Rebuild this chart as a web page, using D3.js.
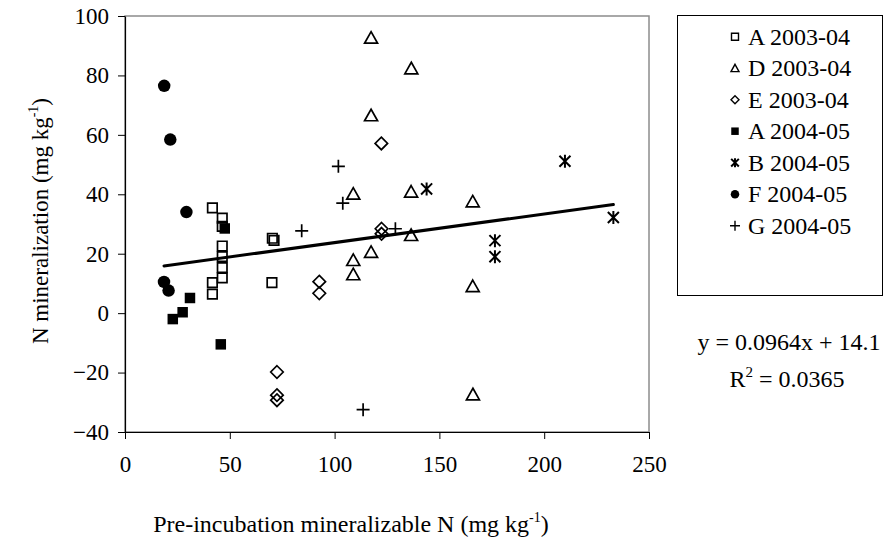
<!DOCTYPE html>
<html>
<head>
<meta charset="utf-8">
<script src="https://cdn.jsdelivr.net/npm/d3@7"></script>
<style>
  html, body { margin: 0; padding: 0; background: #fff; }
  svg { display: block; font-family: "Liberation Serif", "Times New Roman", serif; }
</style>
</head>
<body>
<svg id="chart" width="884" height="538"></svg>
<script>
// ---------------- data ----------------
const seriesNames = ["A 2003-04", "D 2003-04", "E 2003-04", "A 2004-05", "B 2004-05", "F 2004-05", "G 2004-05"];
const seriesShapes = ["squareOpen", "triangle", "diamond", "squareFilled", "star", "circle", "plus"];

const a2003 = [[41.7, 35.4], [46.4, 32.0], [46.4, 29.2], [46.4, 22.6], [46.4, 19.0], [46.4, 15.3],
               [46.4, 11.9], [41.7, 10.3], [41.7, 6.4], [70.3, 25.2], [71.1, 24.5], [70.1, 10.3]];
const d2003 = [[117.4, 92.7], [136.6, 82.4], [117.4, 66.6], [108.9, 40.2], [136.5, 40.9], [165.9, 37.6],
               [136.5, 26.3], [117.4, 20.6], [108.9, 17.9], [108.9, 13.1], [165.9, 9.1], [166.0, -27.3]];
const e2003 = [[72.5, -19.8], [72.5, -27.6], [72.5, -29.3], [122.3, 57.1], [92.7, 10.6], [92.7, 6.7],
               [122.4, 28.4], [122.4, 26.7]];
const a2004 = [[47.6, 28.5], [31.0, 5.1], [27.5, 0.3], [22.8, -2.0], [45.7, -10.5]];
const b2004 = [[143.9, 41.8], [209.9, 51.1], [233.0, 32.2], [176.5, 24.4], [176.5, 19.0]];
const f2004 = [[18.7, 76.5], [21.6, 58.4], [29.3, 34.0], [18.6, 10.5], [20.8, 7.6]];
const g2004 = [[101.8, 49.4], [103.9, 37.0], [84.3, 27.7], [129.0, 28.4], [113.6, -32.5]];

const allSeries = [a2003, d2003, e2003, a2004, b2004, f2004, g2004];

const xTicks = [0, 50, 100, 150, 200, 250];
const yTicks = [-40, -20, 0, 20, 40, 60, 80, 100];

const slope = 0.0964;
const intercept = 14.1;
const eqText = "y = 0.0964x + 14.1";
const r2Text = "= 0.0365";

// ---------------- layout ----------------
const svg = d3.select("#chart");
const x = d3.scaleLinear().domain([0, 250]).range([125, 649]);
const y = d3.scaleLinear().domain([-40, 100]).range([432, 16]);
const FONT = 23;

// plot area border (grey top/right)
svg.append("rect")
  .attr("x", x(0)).attr("y", y(100))
  .attr("width", x(250) - x(0)).attr("height", y(-40) - y(100))
  .attr("fill", "none").attr("stroke", "#8c8c8c").attr("stroke-width", 1.5);

// axes
const xAxis = svg.append("g").attr("transform", `translate(0,${y(-40)})`)
  .call(d3.axisBottom(x).tickValues(xTicks).tickSize(7).tickSizeOuter(0).tickPadding(17));
const yAxis = svg.append("g").attr("transform", `translate(${x(0)},0)`)
  .call(d3.axisLeft(y).tickValues(yTicks).tickSize(7).tickSizeOuter(0).tickPadding(9));
[xAxis, yAxis].forEach(g => {
  g.select(".domain").attr("stroke", "#000").attr("stroke-width", 1.2);
  g.selectAll(".tick line").attr("stroke", "#000").attr("stroke-width", 1);
  g.selectAll(".tick text").attr("fill", "#000")
    .style("font-family", "'Liberation Serif', 'Times New Roman', serif")
    .style("font-size", FONT + "px");
});

// ---------------- markers ----------------
function markerPath(shape, s) {
  const h = s / 2;
  switch (shape) {
    case "squareOpen":
    case "squareFilled":
      return `M${-h},${-h}H${h}V${h}H${-h}Z`;
    case "triangle": {
      const th = s * 0.85;
      return `M0,${-th / 2 - 0.5}L${h},${th / 2}L${-h},${th / 2}Z`;
    }
    case "diamond":
      return `M0,${-h}L${h},0L0,${h}L${-h},0Z`;
    case "circle":
      return `M${h},0A${h},${h} 0 1,1 ${-h},0A${h},${h} 0 1,1 ${h},0Z`;
    case "plus":
      return `M${-h},0H${h}M0,${-h}V${h}`;
    case "star": {
      const k = h * 0.85;
      return `M${-k},${-k}L${k},${k}M${-k},${k}L${k},${-k}M0,${-h}V${h}`;
    }
  }
}
function styleMarker(sel, shape, legend) {
  const filled = shape === "squareFilled" || shape === "circle";
  sel.attr("fill", filled ? "#000" : "none")
     .attr("stroke", "#000")
     .attr("stroke-width", filled ? 0 : (shape === "star" ? 2 : (legend ? 1.4 : 1.7)))
     .attr("stroke-linejoin", "miter");
}
const plotSizes = { squareOpen: 9.5, squareFilled: 10.5, triangle: 13, diamond: 12.5, circle: 12.5, plus: 13, star: 13 };
const legendSizes = { squareOpen: 7, squareFilled: 7.5, triangle: 8, diamond: 8, circle: 8.5, plus: 10, star: 9 };

allSeries.forEach((data, i) => {
  const shape = seriesShapes[i];
  const g = svg.append("g").attr("class", "series");
  g.selectAll("path").data(data).enter().append("path")
    .attr("transform", d => `translate(${x(d[0])},${y(d[1])})`)
    .attr("d", markerPath(shape, plotSizes[shape]))
    .call(sel => styleMarker(sel, shape, false));
});

// trend line
const allPts = allSeries.flat();
const xExt = d3.extent(allPts, d => d[0]);
svg.append("line")
  .attr("x1", x(xExt[0])).attr("y1", y(slope * xExt[0] + intercept))
  .attr("x2", x(xExt[1])).attr("y2", y(slope * xExt[1] + intercept))
  .attr("stroke", "#000").attr("stroke-width", 3).attr("stroke-linecap", "round");

// ---------------- legend ----------------
svg.append("rect").attr("x", 677.5).attr("y", 15.5).attr("width", 205).attr("height", 280)
  .attr("fill", "#fff").attr("stroke", "#000").attr("stroke-width", 1);
const legendY = d3.scalePoint().domain(seriesNames).range([36.7, 225.7]);
seriesNames.forEach((name, i) => {
  const shape = seriesShapes[i];
  const cy = legendY(name);
  svg.append("path")
    .attr("transform", `translate(735,${cy})`)
    .attr("d", markerPath(shape, legendSizes[shape]))
    .call(sel => styleMarker(sel, shape, true));
  svg.append("text").attr("x", 748).attr("y", cy + 8)
    .attr("font-size", 24).attr("fill", "#000").text(name);
});

// equation
svg.append("text").attr("x", 789).attr("y", 350).attr("text-anchor", "middle")
  .attr("font-size", 24).text(eqText);
const r2 = svg.append("text").attr("x", 787).attr("y", 387).attr("text-anchor", "middle")
  .attr("font-size", 24);
r2.append("tspan").text("R");
r2.append("tspan").attr("font-size", 15).attr("dy", -10).text("2");
r2.append("tspan").attr("dy", 10).text(" " + r2Text);

// axis titles
const xt = svg.append("text").attr("x", 351).attr("y", 532).attr("text-anchor", "middle")
  .attr("font-size", 24);
xt.append("tspan").text("Pre-incubation mineralizable N (mg kg");
xt.append("tspan").attr("font-size", 14).attr("dy", -10).text("-1");
xt.append("tspan").attr("dy", 10).text(")");

const yt = svg.append("text").attr("transform", "translate(48,221) rotate(-90)")
  .attr("text-anchor", "middle").attr("font-size", FONT);
yt.append("tspan").text("N mineralization (mg kg");
yt.append("tspan").attr("font-size", 14).attr("dy", -10).text("-1");
yt.append("tspan").attr("dy", 10).text(")");
</script>
</body>
</html>
